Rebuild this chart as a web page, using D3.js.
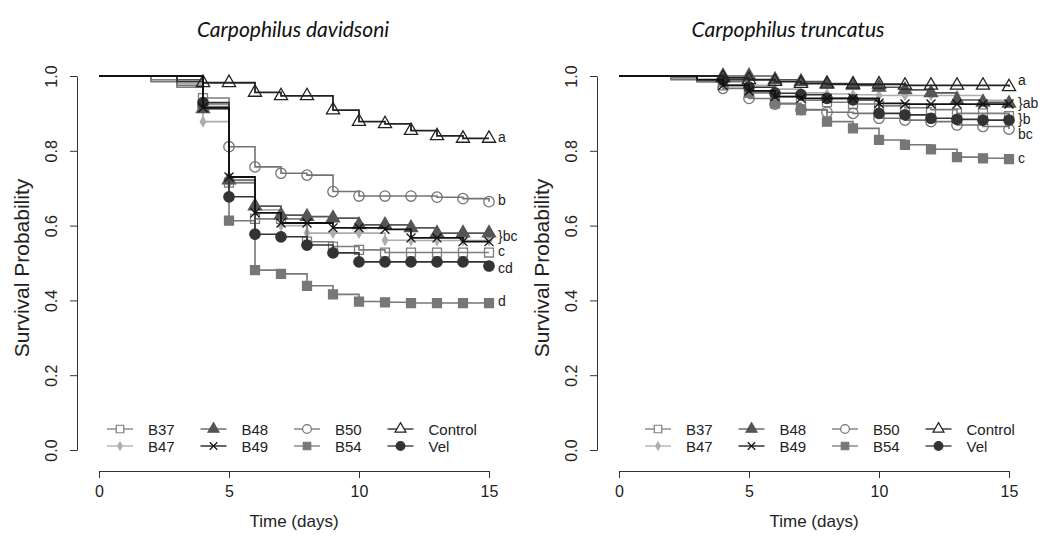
<!DOCTYPE html>
<html>
<head>
<meta charset="utf-8">
<script src="https://cdn.jsdelivr.net/npm/d3@7"></script>
<style>
  body { margin: 0; background: #fff; }
  text { font-family: "Liberation Sans", Arial, sans-serif; }
</style>
</head>
<body>
<svg id="chart" width="1042" height="538"></svg>
<script>
const days = d3.range(0, 16);
const markDays = d3.range(4, 16);
const legendOrder = ["B37", "B47", "B48", "B49", "B50", "B54", "Control", "Vel"];

// survival at day 0..15, Carpophilus davidsoni
const davB37 = [1, 1, 0.99, 0.97, 0.941, 0.715, 0.618, 0.618, 0.557, 0.544, 0.535, 0.528, 0.528, 0.528, 0.528, 0.528];
const davB47 = [1, 1, 1, 0.98, 0.878, 0.714, 0.642, 0.6, 0.58, 0.58, 0.58, 0.561, 0.56, 0.56, 0.56, 0.56];
const davB48 = [1, 1, 1, 0.99, 0.912, 0.722, 0.652, 0.628, 0.624, 0.62, 0.602, 0.602, 0.594, 0.58, 0.58, 0.58];
const davB49 = [1, 1, 1, 1, 0.915, 0.73, 0.634, 0.607, 0.607, 0.594, 0.594, 0.59, 0.567, 0.567, 0.557, 0.557];
const davB50 = [1, 1, 1, 1, 0.918, 0.811, 0.757, 0.74, 0.735, 0.691, 0.679, 0.679, 0.679, 0.676, 0.672, 0.664];
const davB54 = [1, 1, 0.985, 0.975, 0.925, 0.613, 0.481, 0.471, 0.439, 0.416, 0.397, 0.395, 0.393, 0.393, 0.393, 0.393];
const davControl = [1, 1, 1, 1, 0.982, 0.982, 0.956, 0.947, 0.947, 0.909, 0.878, 0.872, 0.854, 0.84, 0.833, 0.833];
const davVel = [1, 1, 1, 0.985, 0.929, 0.677, 0.577, 0.57, 0.548, 0.527, 0.503, 0.503, 0.503, 0.503, 0.503, 0.492];

// survival at day 0..15, Carpophilus truncatus
const truB37 = [1, 1, 0.995, 0.985, 0.975, 0.96, 0.945, 0.935, 0.93, 0.925, 0.92, 0.915, 0.91, 0.9, 0.9, 0.893];
const truB47 = [1, 1, 1, 1, 0.99, 0.975, 0.965, 0.955, 0.952, 0.95, 0.948, 0.948, 0.948, 0.948, 0.935, 0.93];
const truB48 = [1, 1, 1, 1, 1, 1, 0.99, 0.985, 0.98, 0.975, 0.97, 0.963, 0.955, 0.936, 0.93, 0.927];
const truB49 = [1, 1, 1, 0.99, 0.975, 0.96, 0.945, 0.94, 0.94, 0.94, 0.927, 0.925, 0.925, 0.925, 0.925, 0.925];
const truB50 = [1, 1, 1, 1, 0.967, 0.94, 0.925, 0.91, 0.903, 0.9, 0.887, 0.882, 0.878, 0.869, 0.865, 0.858];
const truB54 = [1, 1, 0.99, 0.985, 0.985, 0.955, 0.927, 0.909, 0.878, 0.86, 0.829, 0.816, 0.804, 0.783, 0.78, 0.778];
const truControl = [1, 1, 1, 1, 0.995, 0.99, 0.985, 0.98, 0.978, 0.978, 0.978, 0.975, 0.975, 0.975, 0.975, 0.971];
const truVel = [1, 1, 1, 1, 0.99, 0.97, 0.954, 0.95, 0.94, 0.936, 0.9, 0.896, 0.887, 0.884, 0.882, 0.882];

// significance letters at the end of the curves
const davLetters = ["a", "b", "}bc", "c", "cd", "d"];
const davLetterLevels = [0.838, 0.668, 0.572, 0.531, 0.487, 0.399];
const truLetters = ["a", "}ab", "}b", "bc", "c"];
const truLetterLevels = [0.989, 0.928, 0.886, 0.845, 0.78];

const yTicks = [0, 0.2, 0.4, 0.6, 0.8, 1];
const xTicks = [0, 5, 10, 15];

const styles = {
  B37: { color: "#7d7d7d", sym: "square", fill: false },
  B47: { color: "#adadad", sym: "diamond", fill: true },
  B48: { color: "#555", sym: "triangle", fill: true },
  B49: { color: "#111", sym: "x", fill: false },
  B50: { color: "#737373", sym: "circle", fill: false },
  B54: { color: "#777", sym: "square", fill: true },
  Control: { color: "#222", sym: "triangle", fill: false },
  Vel: { color: "#333", sym: "circle", fill: true }
};

const crossSym = {
  draw(ctx, size) {
    const r = Math.sqrt(size) / 2;
    ctx.moveTo(-r, -r); ctx.lineTo(r, r);
    ctx.moveTo(r, -r); ctx.lineTo(-r, r);
  }
};

function symbolPath(name, k) {
  if (name === "square") return d3.symbol(d3.symbolSquare, 80 * k)();
  if (name === "circle") return d3.symbol(d3.symbolCircle, 85 * k)();
  if (name === "triangle") return d3.symbol(d3.symbolTriangle, 75 * k)();
  if (name === "diamond") return d3.symbol(d3.symbolDiamond, 26 * k)();
  return d3.symbol(crossSym, 80 * k)();
}

const svg = d3.select("#chart");

function renderPanel(opt) {
  const x = d3.scaleLinear().domain([0, 15]).range([opt.x0, opt.x0 + 390]);
  const y = d3.scaleLinear().domain([0, 1]).range([450, 76]);
  const g = svg.append("g");

  // title
  g.append("text")
    .attr("x", opt.titleX).attr("y", 37)
    .attr("text-anchor", "middle")
    .style("font-family", "Lato, 'Open Sans', sans-serif")
    .style("font-style", "italic")
    .style("font-size", "21px")
    .attr("fill", "#111")
    .text(opt.title);

  // axes
  const xAxis = g.append("g")
    .attr("transform", `translate(0,471)`)
    .call(d3.axisBottom(x).tickValues(xTicks).tickSize(7).tickPadding(8).tickSizeOuter(0));
  xAxis.select(".domain").attr("stroke", "#333");
  xAxis.selectAll(".tick line").attr("stroke", "#333");
  xAxis.selectAll(".tick text").style("font-size", "16px").attr("fill", "#222");

  const yAxis = g.append("g")
    .attr("transform", `translate(${opt.x0 - 22},0)`)
    .call(d3.axisLeft(y).tickValues(yTicks).tickFormat(d3.format(".1f")).tickSize(7).tickSizeOuter(0));
  yAxis.select(".domain").attr("stroke", "#333");
  yAxis.selectAll(".tick line").attr("stroke", "#333");
  yAxis.selectAll(".tick text")
    .style("font-size", "16px").attr("fill", "#222")
    .attr("text-anchor", "middle").attr("dy", null)
    .attr("x", null)
    .attr("transform", "translate(-20,0) rotate(-90)");

  g.append("text")
    .attr("transform", `translate(${opt.x0 - 70},${268}) rotate(-90)`)
    .attr("text-anchor", "middle")
    .style("font-size", "21px").attr("fill", "#222")
    .text("Survival Probability");

  g.append("text")
    .attr("x", x(7.5)).attr("y", 527)
    .attr("text-anchor", "middle")
    .style("font-size", "17px").attr("fill", "#222")
    .text("Time (days)");

  // curves
  const line = d3.line()
    .x((d, i) => x(days[i]))
    .y(d => y(d))
    .curve(d3.curveStepAfter);

  const drawOrder = ["B47", "B37", "B50", "B54", "B48", "Vel", "Control", "B49"];
  drawOrder.forEach(name => {
    const vals = opt.series[name];
    const st = styles[name];
    g.append("path")
      .datum(vals)
      .attr("fill", "none")
      .attr("stroke", st.color)
      .attr("stroke-width", name === "B49" || name === "Control" ? 1.8 : 1.6)
      .attr("d", line);
    g.selectAll(null)
      .data(markDays)
      .join("path")
      .attr("transform", d => `translate(${x(d)},${y(vals[d])})`)
      .attr("d", symbolPath(st.sym, 1))
      .attr("fill", st.fill ? st.color : "none")
      .attr("stroke", st.color)
      .attr("stroke-width", 1.3);
  });

  // letters
  g.selectAll(null)
    .data(opt.letters)
    .join("text")
    .attr("x", x(15) + 9)
    .attr("y", (d, i) => y(opt.letterLevels[i]))
    .attr("dominant-baseline", "central")
    .style("font-size", "14px").attr("fill", "#222")
    .text(d => d);

  // legend, 2 rows x 4 columns
  const leg = g.append("g");
  legendOrder.forEach((name, i) => {
    const col = Math.floor(i / 2), row = i % 2;
    const cx = opt.legX + col * 93.5;
    const cy = 429 + row * 17;
    const st = styles[name];
    leg.append("line")
      .attr("x1", cx - 13).attr("x2", cx + 13)
      .attr("y1", cy).attr("y2", cy)
      .attr("stroke", st.color).attr("stroke-width", 1.3);
    leg.append("path")
      .attr("transform", `translate(${cx},${cy})`)
      .attr("d", symbolPath(st.sym, 0.7))
      .attr("fill", st.fill ? st.color : "#fff")
      .attr("stroke", st.color)
      .attr("stroke-width", 1.2);
    leg.append("text")
      .attr("x", cx + 28).attr("y", cy)
      .attr("dominant-baseline", "central")
      .style("font-size", "15px").attr("fill", "#222")
      .text(name);
  });
}

renderPanel({
  x0: 99, titleX: 293, title: "Carpophilus davidsoni", legX: 120,
  series: { B37: davB37, B47: davB47, B48: davB48, B49: davB49, B50: davB50, B54: davB54, Control: davControl, Vel: davVel },
  letters: davLetters, letterLevels: davLetterLevels
});

renderPanel({
  x0: 619, titleX: 788, title: "Carpophilus truncatus", legX: 658,
  series: { B37: truB37, B47: truB47, B48: truB48, B49: truB49, B50: truB50, B54: truB54, Control: truControl, Vel: truVel },
  letters: truLetters, letterLevels: truLetterLevels
});
</script>
</body>
</html>
